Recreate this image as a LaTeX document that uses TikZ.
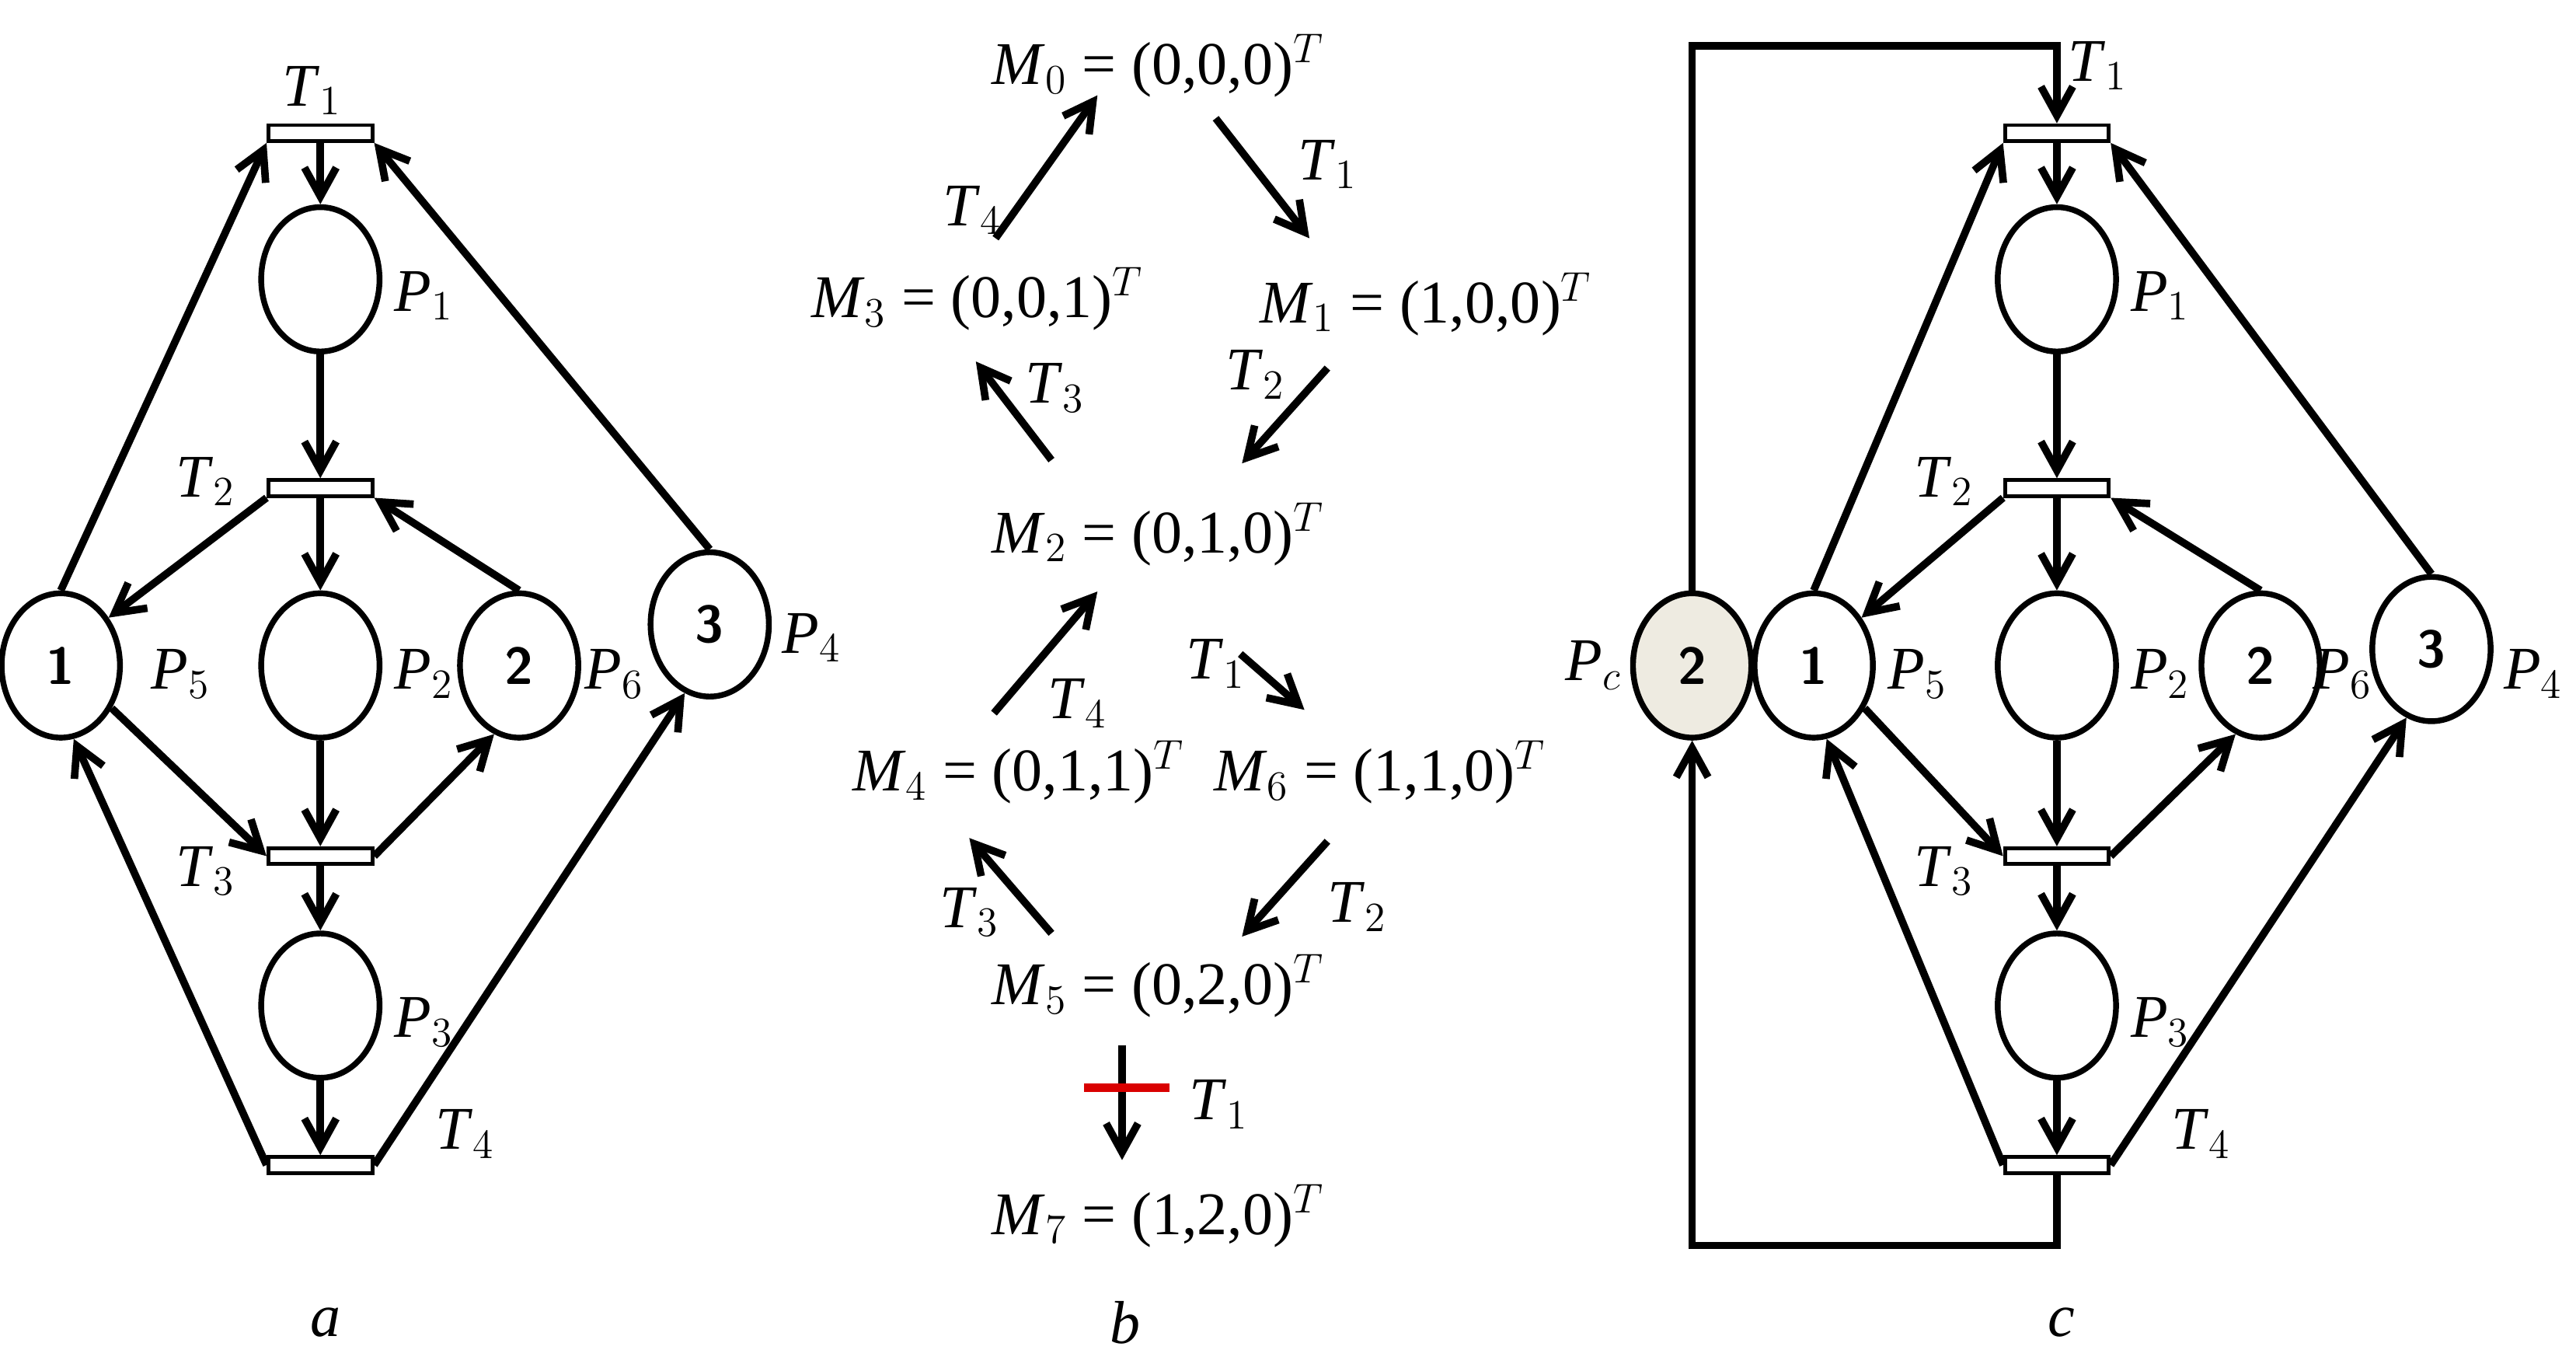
\documentclass[tikz,border=0pt]{standalone}
\usepackage{fontspec}
\setmainfont{Liberation Serif}
\usetikzlibrary{arrows.meta,shapes.geometric}
\begin{document}
\begin{tikzpicture}[x=0.02cm,y=-0.02cm,
  pl/.style={draw,ellipse,line width=2pt,minimum width=41pt,minimum height=50pt,inner sep=0pt,font=\sffamily\bfseries\fontsize{18}{18}\selectfont},
  tr/.style={draw,rectangle,line width=1.3pt,minimum width=36pt,minimum height=5.5pt,inner sep=0pt},
  lb/.style={font=\fontsize{21}{24}\selectfont},
  ar/.style={line width=2.6pt,-{Straight Barb[length=10pt,width=11pt,line width=2.6pt]}},
  mk/.style={font=\fontsize{21}{24}\selectfont}]
\useasboundingbox (0,0) rectangle (1568,834);
% ---------- panel a ----------
\node[tr] (a1) at (195,81) {};
\node[tr] (a2) at (195,297) {};
\node[tr] (a3) at (195,521) {};
\node[tr] (a4) at (195,709) {};
\node[pl] (ap1) at (195,170) {};
\node[pl] (ap2) at (195,405) {};
\node[pl] (ap3) at (195,612) {};
\node[pl] (ap5) at (37,405) {1};
\node[pl] (ap6) at (316,405) {2};
\node[pl] (ap4) at (432,380) {3};
\node[lb] (la1) at (190,55) {\textit{T}$_1$};
\node[lb] (la2) at (125,293) {\textit{T}$_2$};
\node[lb] (la3) at (125,530) {\textit{T}$_3$};
\node[lb] (la4) at (283,690) {\textit{T}$_4$};
\node[lb] (lp1) at (258,180) {\textit{P}$_1$};
\node[lb] (lp2) at (258,410) {\textit{P}$_2$};
\node[lb] (lp3) at (258,622) {\textit{P}$_3$};
\node[lb] (lp5) at (110,410) {\textit{P}$_5$};
\node[lb] (lp6) at (374,410) {\textit{P}$_6$};
\node[lb] (lp4) at (494,388) {\textit{P}$_4$};
\draw[ar] (a1) -- (ap1);
\draw[ar] (ap1) -- (a2);
\draw[ar] (a2) -- (ap2);
\draw[ar] (ap2) -- (a3);
\draw[ar] (a3) -- (ap3);
\draw[ar] (ap3) -- (a4);
\draw[ar] (a2.south west) -- (ap5.45);
\draw[ar] (ap6.north) -- (a2.south east);
\draw[ar] (ap5.north) -- (a1.south west);
\draw[ar] (ap4.north) -- (a1.south east);
\draw[ar] (ap5.-40) -- (a3.west);
\draw[ar] (a3.east) -- (ap6.-110);
\draw[ar] (a4.west) -- (ap5.-80);
\draw[ar] (a4.east) -- (ap4.-110);
\node[lb] (capa) at (198,805) {\textit{a}};
% ---------- panel b ----------
\node[mk] (m0) at (705,40) {\textit{M}$_0$ = (0,0,0)$^{\scriptstyle T}$};
\node[mk] (m3) at (595,182) {\textit{M}$_3$ = (0,0,1)$^{\scriptstyle T}$};
\node[mk] (m1) at (868,185) {\textit{M}$_1$ = (1,0,0)$^{\scriptstyle T}$};
\node[mk] (m2) at (705,325) {\textit{M}$_2$ = (0,1,0)$^{\scriptstyle T}$};
\node[mk] (m4) at (620,470) {\textit{M}$_4$ = (0,1,1)$^{\scriptstyle T}$};
\node[mk] (m6) at (840,470) {\textit{M}$_6$ = (1,1,0)$^{\scriptstyle T}$};
\node[mk] (m5) at (705,600) {\textit{M}$_5$ = (0,2,0)$^{\scriptstyle T}$};
\node[mk] (m7) at (705,740) {\textit{M}$_7$ = (1,2,0)$^{\scriptstyle T}$};
\coordinate (b1s) at (606,145); \coordinate (b1e) at (668,58);
\coordinate (b2s) at (740,72); \coordinate (b2e) at (797,145);
\coordinate (b3s) at (640,280); \coordinate (b3e) at (594,220);
\coordinate (b4s) at (808,224); \coordinate (b4e) at (756,282);
\coordinate (b5s) at (605,434); \coordinate (b5e) at (668,360);
\coordinate (b6s) at (755,398); \coordinate (b6e) at (794,432);
\coordinate (b7s) at (640,568); \coordinate (b7e) at (590,510);
\coordinate (b8s) at (808,512); \coordinate (b8e) at (756,570);
\coordinate (b9s) at (683,636); \coordinate (b9e) at (683,706);
\draw[ar] (b1s) -- (b1e); \draw[ar] (b2s) -- (b2e);
\draw[ar] (b3s) -- (b3e); \draw[ar] (b4s) -- (b4e);
\draw[ar] (b5s) -- (b5e); \draw[ar] (b6s) -- (b6e);
\draw[ar] (b7s) -- (b7e); \draw[ar] (b8s) -- (b8e);
\draw[ar] (b9s) -- (b9e);
\coordinate (rbs) at (660,662); \coordinate (rbe) at (712,662);
\draw[line width=2.8pt,red!85!black] (rbs) -- (rbe);
\node[lb] (tb1) at (592,128) {\textit{T}$_4$};
\node[lb] (tb2) at (808,100) {\textit{T}$_1$};
\node[lb] (tb3) at (642,236) {\textit{T}$_3$};
\node[lb] (tb4) at (764,228) {\textit{T}$_2$};
\node[lb] (tb5) at (656,428) {\textit{T}$_4$};
\node[lb] (tb6) at (740,404) {\textit{T}$_1$};
\node[lb] (tb7) at (590,555) {\textit{T}$_3$};
\node[lb] (tb8) at (826,552) {\textit{T}$_2$};
\node[lb] (tb9) at (742,672) {\textit{T}$_1$};
\node[lb] (capb) at (685,805) {\textit{b}};
% ---------- panel c ----------
\node[tr] (c1) at (1252,81) {};
\node[tr] (c2) at (1252,297) {};
\node[tr] (c3) at (1252,521) {};
\node[tr] (c4) at (1252,709) {};
\node[pl] (cp1) at (1252,170) {};
\node[pl] (cp2) at (1252,405) {};
\node[pl] (cp3) at (1252,612) {};
\node[pl] (cp5) at (1104,405) {1};
\node[pl] (cp6) at (1376,405) {2};
\node[pl] (cp4) at (1480,395) {3};
\node[pl,fill={rgb,255:red,238;green,235;blue,225}] (cpc) at (1030,405) {2};
\node[lb] (lc1) at (1277,40) {\textit{T}$_1$};
\node[lb] (lc2) at (1183,293) {\textit{T}$_2$};
\node[lb] (lc3) at (1183,530) {\textit{T}$_3$};
\node[lb] (lc4) at (1340,690) {\textit{T}$_4$};
\node[lb] (lq1) at (1315,180) {\textit{P}$_1$};
\node[lb] (lq2) at (1315,410) {\textit{P}$_2$};
\node[lb] (lq3) at (1315,622) {\textit{P}$_3$};
\node[lb] (lq5) at (1167,410) {\textit{P}$_5$};
\node[lb] (lq6) at (1426,410) {\textit{P}$_6$};
\node[lb] (lq4) at (1542,410) {\textit{P}$_4$};
\node[lb] (lqc) at (970,405) {\textit{P}$_c$};
\draw[ar] (c1) -- (cp1);
\draw[ar] (cp1) -- (c2);
\draw[ar] (c2) -- (cp2);
\draw[ar] (cp2) -- (c3);
\draw[ar] (c3) -- (cp3);
\draw[ar] (cp3) -- (c4);
\draw[ar] (c2.south west) -- (cp5.45);
\draw[ar] (cp6.north) -- (c2.south east);
\draw[ar] (cp5.north) -- (c1.south west);
\draw[ar] (cp4.north) -- (c1.south east);
\draw[ar] (cp5.-40) -- (c3.west);
\draw[ar] (c3.east) -- (cp6.-110);
\draw[ar] (c4.west) -- (cp5.-80);
\draw[ar] (c4.east) -- (cp4.-110);
\coordinate (k1) at (1030,28); \coordinate (k2) at (1252,28);
\coordinate (k3) at (1252,758); \coordinate (k4) at (1030,758);
\draw[ar] (cpc.north) -- (k1) -- (k2) -- (c1.north);
\draw[ar] (c4.south) -- (k3) -- (k4) -- (cpc.south);
\node[lb] (capc) at (1255,805) {\textit{c}};
\end{tikzpicture}
\end{document}
